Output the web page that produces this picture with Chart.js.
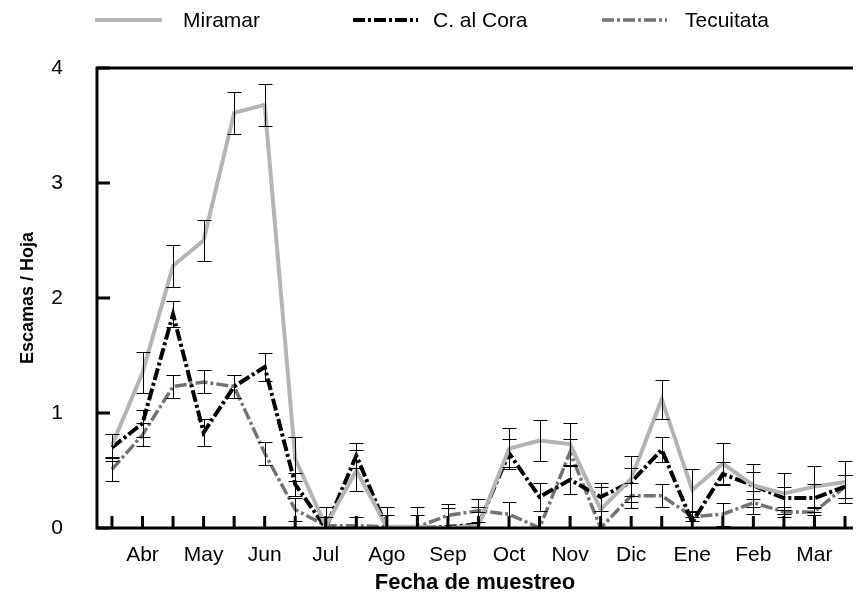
<!DOCTYPE html>
<html>
<head>
<meta charset="utf-8">
<script src="https://cdn.jsdelivr.net/npm/chart.js@4.4.1/dist/chart.umd.min.js"></script>
<style>
  html, body { margin: 0; padding: 0; background: #fff; }
  #wrap { width: 860px; height: 594px; }
</style>
</head>
<body>
<div id="wrap"><canvas id="chart"></canvas></div>
<script>
// sampling dates, two per month; only every second one carries a month name
const fechas = ['', 'Abr', '', 'May', '', 'Jun', '', 'Jul', '', 'Ago', '', 'Sep', '',
                'Oct', '', 'Nov', '', 'Dic', '', 'Ene', '', 'Feb', '', 'Mar', ''];

const miramar    = [0.72, 1.35, 2.28, 2.50, 3.61, 3.68, 0.60, 0.02, 0.50, 0.01, 0.01, 0.00, 0.02,
                    0.69, 0.76, 0.73, 0.16, 0.43, 1.12, 0.33, 0.56, 0.37, 0.30, 0.36, 0.40];
const miramarErr = [0.10, 0.18, 0.18, 0.18, 0.18, 0.18, 0.19, 0.16, 0.18, 0.17, 0.17, 0.00, 0.12,
                    0.18, 0.18, 0.18, 0.20, 0.20, 0.17, 0.18, 0.18, 0.19, 0.18, 0.18, 0.18];

const alCora     = [0.70, 0.91, 1.86, 0.83, 1.23, 1.40, 0.38, 0.00, 0.63, 0.00, 0.00, 0.01, 0.03,
                    0.65, 0.27, 0.42, 0.27, 0.40, 0.68, 0.05, 0.47, 0.37, 0.26, 0.26, 0.36];
const alCoraErr  = [0.12, 0.12, 0.11, 0.12, 0.10, 0.12, 0.10, 0.10, 0.11, 0.00, 0.00, 0.16, 0.15,
                    0.12, 0.12, 0.12, 0.12, 0.12, 0.11, 0.05, 0.10, 0.12, 0.10, 0.12, 0.10];

const tecuitata  = [0.51, 0.81, 1.23, 1.27, 1.23, 0.65, 0.16, 0.02, 0.02, 0.01, 0.01, 0.11, 0.15,
                    0.12, 0.00, 0.66, 0.00, 0.28, 0.28, 0.10, 0.12, 0.22, 0.14, 0.14, 0.36];
const tecuitataErr = [0.10, 0.10, 0.10, 0.10, 0.10, 0.10, 0.10, 0.00, 0.08, 0.10, 0.10, 0.10, 0.10,
                    0.11, 0.00, 0.11, 0.00, 0.11, 0.10, 0.04, 0.10, 0.10, 0.04, 0.03, 0.10];

const yTicks = [0, 1, 2, 3, 4];

const FONT = "'Liberation Sans', Arial, sans-serif";

function points(arr) {
    return arr.map((v, i) => ({ x: i, y: v }));
}

// axis frame with inward ticks, error bars and the legend row
const frameAndErrors = {
    id: 'frameAndErrors',
    afterDatasetsDraw(chart) {
        const ctx = chart.ctx;
        const xs = chart.scales.x;
        const ys = chart.scales.y;
        const area = chart.chartArea;

        ctx.save();
        ctx.strokeStyle = '#000';
        ctx.lineWidth = 1;
        chart.data.datasets.forEach(ds => {
            ds.errors.forEach((e, i) => {
                if (!e) return;
                const v = ds.data[i].y;
                const px = Math.round(xs.getPixelForValue(i)) + 0.5;
                const hi = Math.round(ys.getPixelForValue(v + e)) + 0.5;
                const lo = Math.round(ys.getPixelForValue(Math.max(v - e, 0))) + 0.5;
                ctx.beginPath();
                ctx.moveTo(px, hi); ctx.lineTo(px, lo);
                ctx.moveTo(px - 7, hi); ctx.lineTo(px + 7, hi);
                ctx.moveTo(px - 7, lo); ctx.lineTo(px + 7, lo);
                ctx.stroke();
            });
        });

        // frame
        ctx.lineWidth = 3;
        ctx.beginPath();
        ctx.moveTo(area.right, area.top);
        ctx.lineTo(area.left, area.top);
        ctx.lineTo(area.left, area.bottom);
        ctx.lineTo(area.right, area.bottom);
        ctx.stroke();

        // inward ticks
        ctx.beginPath();
        fechas.forEach((f, i) => {
            const px = xs.getPixelForValue(i);
            ctx.moveTo(px, area.bottom);
            ctx.lineTo(px, area.bottom - 12);
        });
        yTicks.forEach(t => {
            const py = ys.getPixelForValue(t);
            ctx.moveTo(area.left, py);
            ctx.lineTo(area.left + 13, py);
        });
        ctx.stroke();
        ctx.restore();
    },
    afterDraw(chart) {
        const ctx = chart.ctx;
        const items = [
            { line: [95, 162], text: 183 },
            { line: [353, 418], text: 433 },
            { line: [602, 667], text: 685 }
        ];
        ctx.save();
        ctx.font = '21px ' + FONT;
        ctx.textBaseline = 'middle';
        ctx.fillStyle = '#000';
        chart.data.datasets.forEach((ds, i) => {
            const it = items[i];
            ctx.strokeStyle = ds.borderColor;
            ctx.lineWidth = ds.borderWidth;
            ctx.setLineDash(ds.borderDash || []);
            ctx.beginPath();
            ctx.moveTo(it.line[0], 20);
            ctx.lineTo(it.line[1], 20);
            ctx.stroke();
            ctx.setLineDash([]);
            ctx.fillText(ds.label, it.text, 21);
        });
        ctx.restore();
    }
};

function initChart() {
    const ctx = document.getElementById('chart');

    new Chart(ctx, {
        type: 'line',
        data: {
            datasets: [
                {
                    label: 'Miramar',
                    data: points(miramar),
                    errors: miramarErr,
                    borderColor: '#b4b4b4',
                    borderWidth: 4,
                    pointRadius: 0,
                    tension: 0
                },
                {
                    label: 'C. al Cora',
                    data: points(alCora),
                    errors: alCoraErr,
                    borderColor: '#000000',
                    borderWidth: 4,
                    borderDash: [12, 3, 3, 3],
                    pointRadius: 0,
                    tension: 0
                },
                {
                    label: 'Tecuitata',
                    data: points(tecuitata),
                    errors: tecuitataErr,
                    borderColor: '#737373',
                    borderWidth: 3.5,
                    borderDash: [12, 3, 3, 3],
                    pointRadius: 0,
                    tension: 0
                }
            ]
        },
        options: {
            responsive: true,
            maintainAspectRatio: false,
            animation: false,
            layout: {
                padding: { top: 68, right: 0, bottom: 0, left: 0 }
            },
            scales: {
                x: {
                    type: 'linear',
                    min: -0.49,
                    max: 24.26,
                    afterBuildTicks: scale => {
                        scale.ticks = fechas.map((f, i) => ({ value: i }));
                    },
                    afterFit: scale => { scale.height = 66; },
                    grid: { display: false, drawTicks: false },
                    border: { display: false },
                    ticks: {
                        autoSkip: false,
                        maxRotation: 0,
                        padding: 15,
                        color: '#000',
                        font: { family: FONT, size: 21 },
                        callback: value => fechas[value] || ''
                    },
                    title: {
                        display: true,
                        text: 'Fecha de muestreo',
                        color: '#000',
                        font: { family: FONT, size: 22, weight: 'bold', lineHeight: 1 },
                        padding: { top: 0, bottom: 0 }
                    }
                },
                y: {
                    min: 0,
                    max: 4,
                    afterBuildTicks: scale => {
                        scale.ticks = yTicks.map(v => ({ value: v }));
                    },
                    afterFit: scale => { scale.width = 97; },
                    grid: { display: false, drawTicks: false },
                    border: { display: false },
                    ticks: {
                        padding: 34,
                        color: '#000',
                        font: { family: FONT, size: 21 }
                    },
                    title: {
                        display: true,
                        text: 'Escamas / Hoja',
                        color: '#000',
                        font: { family: FONT, size: 18, weight: 'bold' },
                        padding: { top: 17, bottom: 0 }
                    }
                }
            },
            plugins: {
                legend: { display: false },
                tooltip: { enabled: false }
            }
        },
        plugins: [frameAndErrors]
    });
}

document.addEventListener('DOMContentLoaded', initChart);
</script>
</body>
</html>
